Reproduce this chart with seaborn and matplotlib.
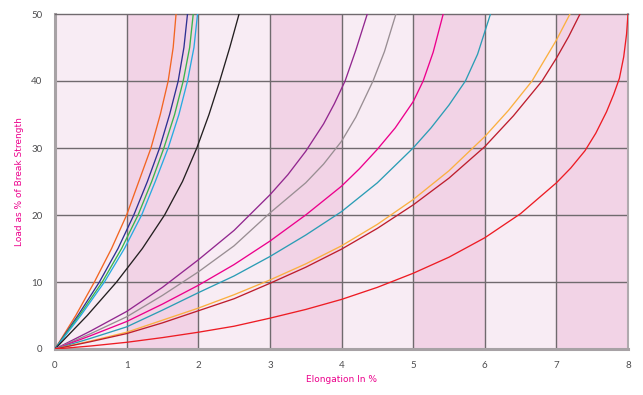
import matplotlib
matplotlib.use("Agg")
import matplotlib.pyplot as plt
import pandas as pd
import seaborn as sns

# curve readings: elongation (%) and load (% of break strength)
orange_x = [0, 0.29, 0.55, 0.79, 1.0, 1.17, 1.34, 1.47, 1.58, 1.65, 1.69]
orange_y = [0, 5, 10, 15, 20, 25, 30, 35, 40, 45, 50]

navy_x = [0, 0.32, 0.62, 0.88, 1.10, 1.29, 1.46, 1.60, 1.72, 1.80, 1.85]
navy_y = [0, 5, 10, 15, 20, 25, 30, 35, 40, 45, 50]

green_x = [0, 0.34, 0.66, 0.93, 1.16, 1.35, 1.52, 1.67, 1.79, 1.88, 1.93]
green_y = [0, 5, 10, 15, 20, 25, 30, 35, 40, 45, 50]

blue_x = [0, 0.36, 0.69, 0.97, 1.21, 1.40, 1.58, 1.73, 1.85, 1.94, 1.99]
blue_y = [0, 5, 10, 15, 20, 25, 30, 35, 40, 45, 50]

black_x = [0, 0.45, 0.86, 1.22, 1.53, 1.78, 1.98, 2.15, 2.30, 2.44, 2.57]
black_y = [0, 5, 10, 15, 20, 25, 30, 35, 40, 45, 50]

purple_x = [0, 0.5, 1, 1.5, 2, 2.5, 3, 3.25, 3.5, 3.75, 3.9, 4.05, 4.2, 4.36]
purple_y = [0, 2.7, 5.6, 9.2, 13.3, 17.7, 23.0, 26.0, 29.5, 33.6, 36.6, 40, 44.6, 50]

gray_x = [0, 0.5, 1, 1.5, 2, 2.5, 3, 3.5, 3.75, 4.0, 4.2, 4.44, 4.6, 4.76]
gray_y = [0, 2.3, 4.8, 8.0, 11.5, 15.4, 20.3, 24.8, 27.6, 31.0, 34.6, 40, 44.4, 50]

magenta_x = [0, 0.5, 1, 1.5, 2, 2.5, 3, 3.5, 4, 4.25, 4.5, 4.75, 5.0, 5.14, 5.28, 5.42]
magenta_y = [0, 2.0, 4.1, 6.7, 9.5, 12.6, 16.1, 20.0, 24.3, 26.9, 29.8, 33.0, 36.9, 40, 44.3, 50]

teal_x = [0, 0.5, 1, 1.5, 2, 2.5, 3, 3.5, 4, 4.5, 5, 5.25, 5.5, 5.73, 5.9, 6.08]
teal_y = [0, 1.6, 3.3, 5.8, 8.4, 10.9, 13.8, 17.0, 20.5, 24.8, 30, 33.0, 36.4, 40, 44.0, 50]

amber_x = [0, 0.5, 1, 1.5, 2, 2.5, 3, 3.5, 4, 4.5, 5, 5.5, 6, 6.33, 6.66, 7, 7.19]
amber_y = [0, 1.2, 2.5, 4.3, 6.1, 8.1, 10.3, 12.7, 15.4, 18.6, 22.3, 26.6, 31.7, 35.6, 40, 46.1, 50]

darkred_x = [0, 0.5, 1, 1.5, 2, 2.5, 3, 3.5, 4, 4.5, 5, 5.5, 6, 6.4, 6.8, 7, 7.17, 7.33]
darkred_y = [0, 1.1, 2.3, 3.9, 5.7, 7.5, 9.8, 12.2, 14.9, 18.0, 21.5, 25.5, 30.2, 34.8, 40, 43.4, 46.6, 50]

red_x = [0, 0.5, 1, 1.5, 2, 2.5, 3, 3.5, 4, 4.5, 5, 5.5, 6, 6.5, 7, 7.2, 7.4, 7.55, 7.7, 7.8, 7.88, 7.94, 7.98, 8.0]
red_y = [0, 0.45, 1.0, 1.7, 2.5, 3.4, 4.6, 5.9, 7.4, 9.2, 11.3, 13.7, 16.6, 20.2, 24.8, 27.0, 29.6, 32.2, 35.4, 38.0, 40.4, 43.6, 47.0, 50]

curves = {
    "orange": (orange_x, orange_y, "#f26522"),
    "navy": (navy_x, navy_y, "#2e3192"),
    "green": (green_x, green_y, "#39b54a"),
    "blue": (blue_x, blue_y, "#27aae1"),
    "black": (black_x, black_y, "#231f20"),
    "purple": (purple_x, purple_y, "#92278f"),
    "gray": (gray_x, gray_y, "#998e93"),
    "magenta": (magenta_x, magenta_y, "#ec008c"),
    "teal": (teal_x, teal_y, "#2b9db5"),
    "amber": (amber_x, amber_y, "#fbb040"),
    "darkred": (darkred_x, darkred_y, "#be1e2d"),
    "red": (red_x, red_y, "#ed1c24"),
}

x_ticks = [0, 1, 2, 3, 4, 5, 6, 7, 8]
y_ticks = [0, 10, 20, 30, 40, 50]

rows = []
for name, (xs, ys, _) in curves.items():
    for xv, yv in zip(xs, ys):
        rows.append({"curve": name, "elong": xv, "load": yv})
df = pd.DataFrame(rows)
palette = {name: c for name, (_, _, c) in curves.items()}

sns.set_theme(style="white")
plt.rcParams["font.family"] = ["Lato", "DejaVu Sans"]

fig = plt.figure(figsize=(6.43, 3.95), dpi=100)
ax = fig.add_axes([55 / 643, 1 - 349 / 395, (628 - 55) / 643, (349 - 14) / 395])

# alternating pink bands
for i in range(8):
    ax.axvspan(i, i + 1, color="#f2d3e6" if i % 2 else "#f8ecf4", lw=0, zorder=0)

for xv in x_ticks[1:-1]:
    ax.axvline(xv, color="#706a6e", lw=1.0, zorder=1)
for yv in y_ticks[1:-1]:
    ax.axhline(yv, color="#706a6e", lw=1.0, zorder=1)

sns.lineplot(data=df, x="elong", y="load", hue="curve", palette=palette,
             sort=False, estimator=None, lw=0.95, legend=False, ax=ax, zorder=3)

ax.set_xlim(0, 8)
ax.set_ylim(0, 50)
ax.set_xticks(x_ticks)
ax.set_yticks(y_ticks)
ax.tick_params(axis="both", length=0, labelsize=7, labelcolor="#4d4d4f")
ax.tick_params(axis="x", pad=9)
ax.tick_params(axis="y", pad=9)
ax.set_xlabel("")
ax.set_ylabel("")

for side in ["left", "bottom"]:
    ax.spines[side].set_color("#a7a2a5")
    ax.spines[side].set_linewidth(2.2)
ax.spines["top"].set_color("#706a6e")
ax.spines["top"].set_linewidth(1.0)
ax.spines["right"].set_color("#b0aaae")
ax.spines["right"].set_linewidth(1.5)

label_font = ["Liberation Sans Narrow", "DejaVu Sans"]
fig.text(341.5 / 643, 1 - 380 / 395, "Elongation In %", fontsize=6.5, color="#ec008c",
         ha="center", va="center", family=label_font)
fig.text(20 / 643, 1 - 181.5 / 395, "Load as % of Break Strength", fontsize=6.5,
         color="#ec008c", ha="center", va="center", rotation=90, family=label_font)

fig.savefig("out.png", dpi=100)
